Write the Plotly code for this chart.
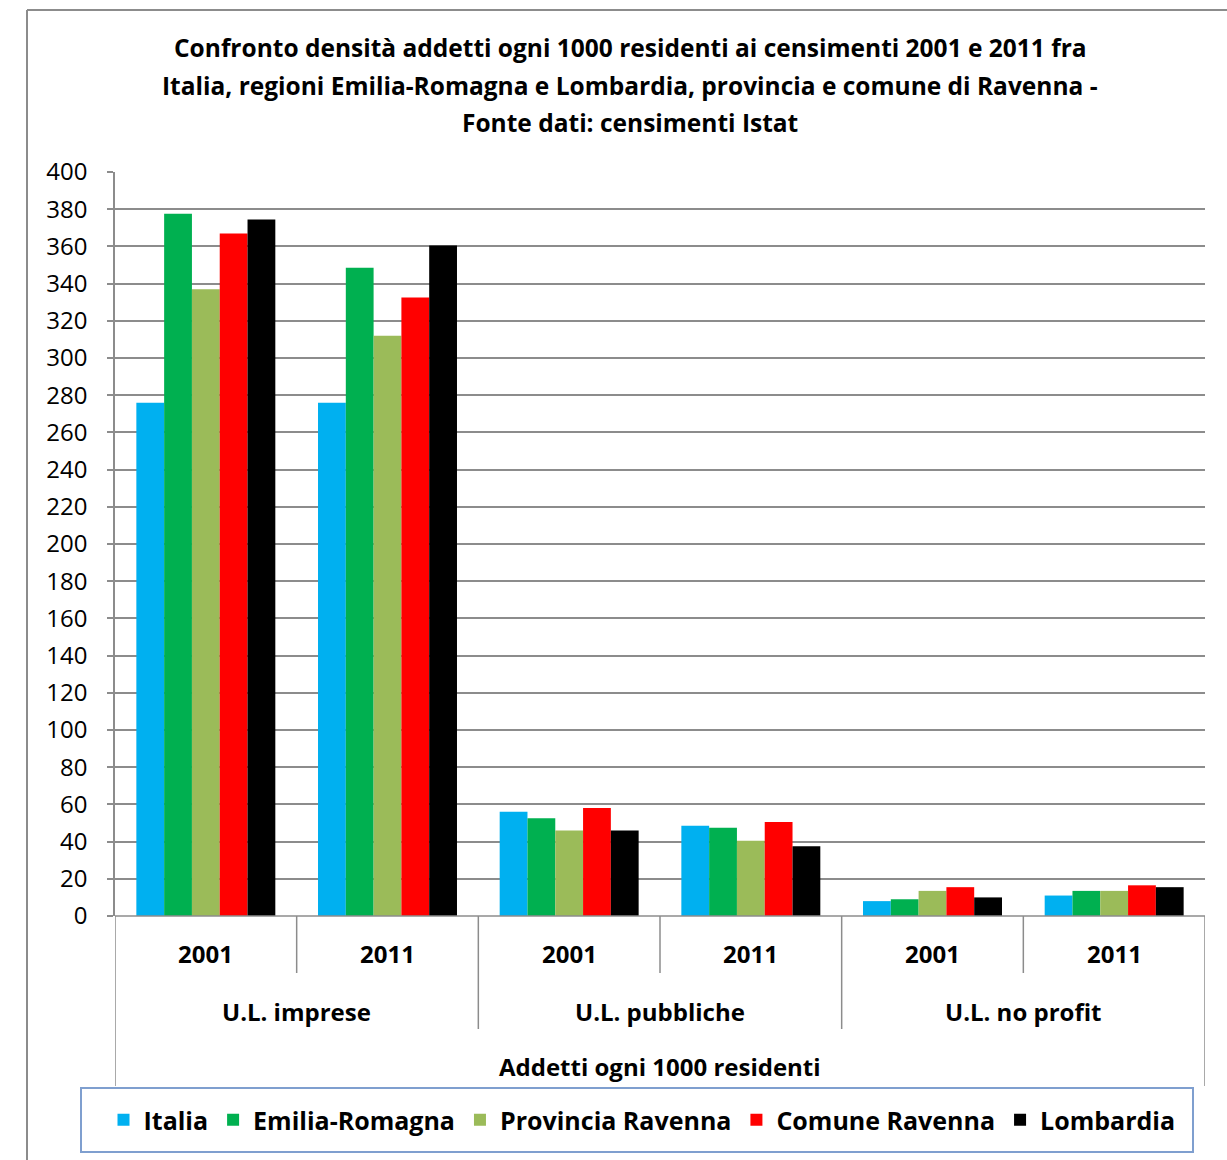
import plotly.graph_objects as go

# Categories: unit type (outer level) and census year (inner level)
groups = ["U.L. imprese", "U.L. pubbliche", "U.L. no profit"]
years = ["2001", "2011"]
categories = [f"{g} {y}" for g in groups for y in years]

# Workers per 1000 residents, one list per territory (order matches categories)
italia = [276, 276, 56, 48.5, 8, 11]
emilia_romagna = [377.5, 348.5, 52.5, 47.5, 9, 13.5]
provincia_ravenna = [337, 312, 46, 40.5, 13.5, 13.5]
comune_ravenna = [367, 332.5, 58, 50.5, 15.5, 16.5]
lombardia = [374.5, 360.5, 46, 37.5, 10, 15.5]

series = [
    ("Italia", italia, "#00B0F0"),
    ("Emilia-Romagna", emilia_romagna, "#00B050"),
    ("Provincia Ravenna", provincia_ravenna, "#9BBB59"),
    ("Comune Ravenna", comune_ravenna, "#FF0000"),
    ("Lombardia", lombardia, "#000000"),
]

title_lines = [
    "Confronto densità addetti ogni 1000 residenti ai censimenti 2001 e 2011 fra",
    "Italia, regioni Emilia-Romagna e Lombardia, provincia e comune di Ravenna -",
    "Fonte dati: censimenti Istat",
]
axis_title = "Addetti ogni 1000 residenti"

FONT = "'Open Sans', Lato, sans-serif"
GRID = "#8c8c8c"

# pixel geometry of the plotting area
W, H = 1227, 1160
L, R, T, B = 115, 1205, 172, 916


def px(xp):
    return (xp - L) / (R - L)


def py(yp):
    return (B - yp) / (B - T)


def label(text, x, y, xref="paper", size=24):
    return dict(
        text=f"<b>{text}</b>", x=x, xref=xref, y=py(y), yref="paper",
        showarrow=False, xanchor="center", yanchor="middle",
        font=dict(family=FONT, size=size, color="black"),
    )


fig = go.Figure()
for name, vals, color in series:
    fig.add_trace(go.Bar(
        name=f"<b>{name}</b>", x=categories, y=vals,
        marker=dict(color=color, line=dict(width=0)),
    ))

annotations = []
# chart title, one line each
for i, line in enumerate(title_lines):
    annotations.append(label(line, px(630), 48 + 37 * i, size=24.5))
# year labels (inner level)
for i, c in enumerate(categories):
    annotations.append(label(c.split()[-1], i, 953, xref="x"))
# unit-type labels (outer level)
for gi, g in enumerate(groups):
    annotations.append(label(g, 2 * gi + 0.5, 1011, xref="x"))
annotations.append(label(axis_title, 2.5, 1066, xref="x"))

shapes = []
line_style = dict(color=GRID, width=1.5)
# dividers between years
for b in [0.5, 2.5, 4.5]:
    shapes.append(dict(type="line", xref="x", yref="paper", x0=b, x1=b,
                       y0=0, y1=py(973), line=line_style))
# dividers between unit types
for b in [1.5, 3.5]:
    shapes.append(dict(type="line", xref="x", yref="paper", x0=b, x1=b,
                       y0=0, y1=py(1029), line=line_style))
# outer edges of the category table
for b in [-0.5, 5.5]:
    shapes.append(dict(type="line", xref="x", yref="paper", x0=b, x1=b,
                       y0=0, y1=py(1086), line=line_style))
# baseline
shapes.append(dict(type="line", xref="x", yref="paper", x0=-0.5, x1=5.5,
                   y0=0, y1=0, line=line_style))
# chart frame (top and left edges)
shapes.append(dict(type="line", xref="paper", yref="paper", x0=px(27), x1=px(1227),
                   y0=py(10), y1=py(10), line=dict(color="#8c8c8c", width=2)))
shapes.append(dict(type="line", xref="paper", yref="paper", x0=px(27), x1=px(27),
                   y0=py(10), y1=py(1160), line=dict(color="#8c8c8c", width=2)))
# legend frame
shapes.append(dict(type="rect", xref="paper", yref="paper", x0=px(81), x1=px(1193),
                   y0=py(1088), y1=py(1152), line=dict(color="#7f9fcf", width=2),
                   fillcolor="rgba(0,0,0,0)"))

fig.update_layout(
    width=W, height=H,
    margin=dict(l=L, r=W - R, t=T, b=H - B, pad=0),
    paper_bgcolor="white", plot_bgcolor="white",
    barmode="group", bargap=0.235, bargroupgap=0,
    font=dict(family=FONT, size=24, color="black"),
    showlegend=True,
    legend=dict(
        orientation="h", x=px(642), xanchor="center", y=py(1120), yanchor="middle",
        font=dict(family=FONT, size=25, color="black"),
        bgcolor="rgba(0,0,0,0)", borderwidth=0,
        traceorder="normal",
    ),
    annotations=annotations,
    shapes=shapes,
)
fig.update_xaxes(
    type="category", range=[-0.5, 5.5], showticklabels=False, ticks="",
    showgrid=False, showline=False, zeroline=False, fixedrange=True,
)
fig.update_yaxes(
    range=[0, 400], dtick=20, tick0=0,
    showgrid=True, gridcolor=GRID, gridwidth=1.5,
    showline=True, linecolor=GRID, linewidth=1.5,
    ticks="outside", ticklen=6, tickcolor=GRID, tickwidth=1.5,
    ticklabelstandoff=15, zeroline=False,
    tickfont=dict(family=FONT, size=24, color="black"),
)

fig.write_html("out.html")
